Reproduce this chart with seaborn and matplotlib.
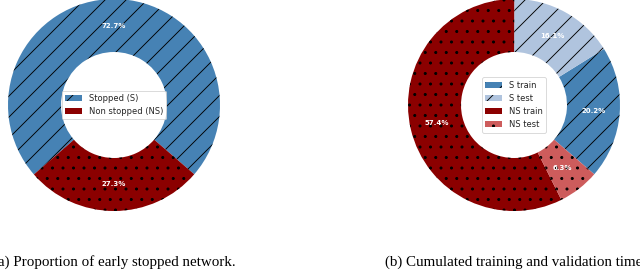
import matplotlib
matplotlib.use('Agg')
import matplotlib.pyplot as plt
import seaborn as sns

# low dpi so the hatch spacing matches the (downscaled) original figure
DPI = 63
W, H = 640, 273


def px(v):
    # pixel size -> points at this dpi
    return v * 72 / DPI


sns.set_theme(style='white')
plt.rcParams['font.family'] = ['DejaVu Sans']
plt.rcParams['hatch.color'] = 'black'
plt.rcParams['hatch.linewidth'] = px(0.9)

# (a) early stopped networks
stop_labels = ['Stopped (S)', 'Non stopped (NS)']
stop_share = [72.7, 27.3]
stop_colors = ['#4682B4', '#8B0000']
stop_hatch = ['/', '.']

# (b) cumulated training / validation time
time_labels = ['S train', 'S test', 'NS train', 'NS test']
time_share = [20.2, 16.1, 57.4, 6.3]
time_colors = ['#4682B4', '#B0C4DE', '#8B0000', '#CD5C5C']
time_hatch = ['/', '/', '.', '.']

captions = ['(a) Proportion of early stopped network.',
            '(b) Cumulated training and validation time']

fig = plt.figure(figsize=(W / DPI, H / DPI), dpi=DPI)
ax1 = fig.add_axes([8 / W, 62 / H, 212 / W, 212 / H])
ax2 = fig.add_axes([408 / W, 62 / H, 212 / W, 212 / H])


def donut(ax, share, labels, colors, hatches):
    wedges, _, autotexts = ax.pie(
        share, colors=colors, startangle=-40.8, autopct='%1.1f%%',
        pctdistance=0.75, radius=1.0,
        wedgeprops=dict(width=0.5, edgecolor='black', linewidth=0),
        textprops=dict(color='white', fontsize=px(7), fontweight='bold'))
    for w, h in zip(wedges, hatches):
        w.set_hatch(h)
    ax.set_xlim(-1.0, 1.0)
    ax.set_ylim(-1.0, 1.0)
    ax.legend(wedges, labels, loc='center', fontsize=px(8.4), frameon=True,
              fancybox=True, framealpha=0.8, edgecolor='0.8')


donut(ax1, stop_share, stop_labels, stop_colors, stop_hatch)
donut(ax2, time_share, time_labels, time_colors, time_hatch)

# captions are wider than their column and run off the page, as in the original
for x, txt in zip([114 / W, 514 / W], captions):
    fig.text(x, 11 / H, txt, ha='center', va='center', fontsize=px(15),
             color='black', family=['Liberation Serif', 'DejaVu Serif'])

fig.savefig('out.png', dpi=DPI)
